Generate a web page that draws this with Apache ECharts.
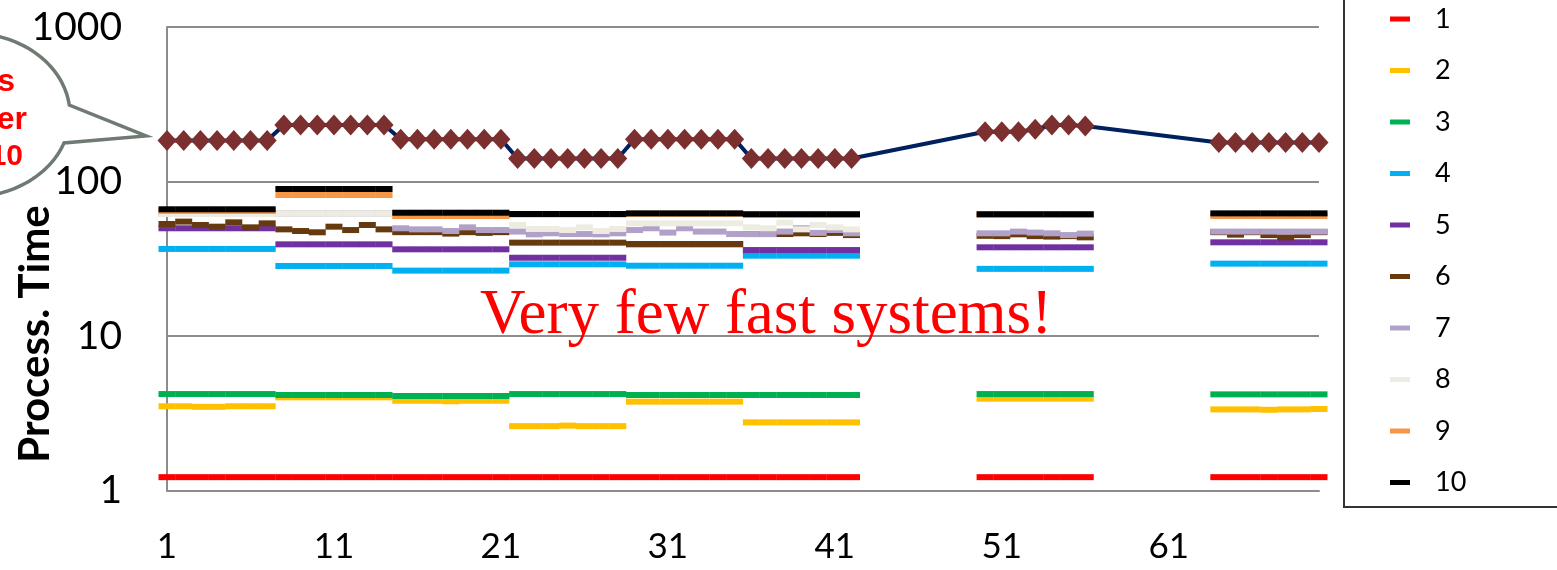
<!DOCTYPE html>
<html><head><meta charset="utf-8">
<script src="https://cdn.jsdelivr.net/npm/echarts@6/dist/echarts.min.js"></script>
<style>html,body{margin:0;padding:0;background:#fff;overflow:hidden}#c{width:1557px;height:570px}</style>
</head><body><div id="c"></div>
<script>
const N = null;
const categories = ['1','2','3','4','5','6','7','8','9','10','11','12','13','14','15','16','17','18','19','20',
'21','22','23','24','25','26','27','28','29','30','31','32','33','34','35','36','37','38','39','40',
'41','42','43','44','45','46','47','48','49','50','51','52','53','54','55','56','57','58','59','60',
'61','62','63','64','65','66','67','68','69','70'];
const yTicks = [1, 10, 100, 1000];
const seriesNames = ['1','2','3','4','5','6','7','8','9','10'];
const seriesColors = ['#FF0000','#FFC000','#00B050','#00B0F0','#7030A0','#663A0E','#B1A0C7','#EEECE1','#F79646','#000000'];

const s1 = [
1.22,1.22,1.22,1.22,1.22,1.22,1.22, 1.22,1.22,1.22,1.22,1.22,1.22,1.22,
1.22,1.22,1.22,1.22,1.22,1.22,1.22, 1.22,1.22,1.22,1.22,1.22,1.22,1.22,
1.22,1.22,1.22,1.22,1.22,1.22,1.22, 1.22,1.22,1.22,1.22,1.22,1.22,1.22,
N,N,N,N,N,N,N, 1.22,1.22,1.22,1.22,1.22,1.22,1.22, N,N,N,N,N,N,N, 1.22,1.22,1.22,1.22,1.22,1.22,1.22];
const s2 = [
3.51,3.51,3.48,3.48,3.51,3.51,3.51, 4.01,4.01,4.01,4.01,4.01,4.01,4.01,
3.81,3.81,3.81,3.78,3.81,3.81,3.81, 2.61,2.61,2.61,2.63,2.61,2.61,2.61,
3.76,3.76,3.76,3.76,3.76,3.76,3.76, 2.76,2.76,2.76,2.76,2.76,2.76,2.76,
N,N,N,N,N,N,N, 3.93,3.93,3.93,3.93,3.93,3.93,3.93, N,N,N,N,N,N,N, 3.35,3.35,3.35,3.33,3.35,3.35,3.37];
const s3 = [
4.21,4.21,4.21,4.21,4.21,4.21,4.21, 4.15,4.15,4.15,4.15,4.15,4.15,4.15,
4.09,4.09,4.09,4.09,4.09,4.09,4.09, 4.21,4.21,4.21,4.21,4.21,4.21,4.21,
4.15,4.15,4.15,4.15,4.15,4.15,4.15, 4.15,4.15,4.15,4.15,4.15,4.15,4.15,
N,N,N,N,N,N,N, 4.21,4.21,4.21,4.21,4.21,4.21,4.21, N,N,N,N,N,N,N, 4.19,4.19,4.19,4.19,4.19,4.19,4.19];
const s4 = [
36.6,36.6,36.6,36.6,36.6,36.6,36.6, 28.4,28.4,28.4,28.4,28.4,28.4,28.4,
26.5,26.5,26.5,26.5,26.5,26.5,26.5, 29.1,29.1,29.1,29.1,29.1,29.1,29.1,
28.5,28.5,28.5,28.5,28.5,28.5,28.5, 33.1,33.1,33.1,33.1,33.1,33.1,33.1,
N,N,N,N,N,N,N, 27.2,27.2,27.2,27.2,27.2,27.2,27.2, N,N,N,N,N,N,N, 29.4,29.4,29.4,29.4,29.4,29.4,29.4];
const s5 = [
49.8,49.8,49.8,49.8,49.8,49.8,49.8, 39.2,39.2,39.2,39.2,39.2,39.2,39.2,
36.4,36.4,36.4,36.4,36.4,36.4,36.4, 32.1,32.1,32.1,32.1,32.1,32.1,32.1,
39.2,39.2,39.2,39.2,39.2,39.2,39.2, 36.0,36.0,36.0,36.0,36.0,36.0,36.0,
N,N,N,N,N,N,N, 37.5,37.5,37.5,37.5,37.5,37.5,37.5, N,N,N,N,N,N,N, 40.4,40.4,40.4,40.4,40.4,40.4,40.4];
const s6 = [
53.1,55.0,52.3,51.0,54.4,50.5,53.6, 49.0,47.8,46.9,51.0,48.5,52.3,49.0,
47.0,47.0,47.0,46.0,47.0,46.5,47.0, 40.2,40.2,40.2,40.2,40.2,40.2,40.2,
39.4,39.4,39.4,39.4,39.4,39.4,39.4, 45.7,45.7,45.7,46.2,45.7,46.5,45.0,
N,N,N,N,N,N,N, 44.5,44.3,45.5,44.3,44.0,44.3,43.5, N,N,N,N,N,N,N, 47.0,45.3,47.0,45.0,43.5,45.0,47.0];
const s7 = [
61.6,61.6,61.6,61.6,61.6,61.6,61.6, 62.2,62.2,62.2,62.2,62.2,62.2,62.2,
49.8,49.0,49.0,47.8,50.5,48.5,48.5, 47.4,45.5,46.2,45.7,45.7,45.5,46.2,
48.5,49.8,46.7,49.8,47.4,47.4,45.7, 45.7,45.7,47.4,49.8,46.5,48.5,46.2,
N,N,N,N,N,N,N, 46.2,46.2,47.4,46.7,46.2,45.0,46.0, N,N,N,N,N,N,N, 47.4,47.4,47.4,47.4,47.4,47.4,47.4];
const s8 = [
61.6,61.6,61.6,61.6,61.6,61.6,61.6, 62.2,62.2,62.2,62.2,62.2,62.2,62.2,
61.3,61.3,61.3,61.3,61.3,61.3,61.3, 52.3,49.3,49.3,48.5,50.5,47.8,49.3,
53.6,53.6,53.6,53.6,53.6,53.6,53.6, 50.5,49.8,54.1,49.0,52.3,50.5,49.0,
N,N,N,N,N,N,N, 61.0,61.0,61.0,61.0,61.0,61.0,61.0, N,N,N,N,N,N,N, 61.0,61.0,61.0,61.0,61.0,61.0,61.0];
const s9 = [
64.5,64.5,64.5,64.5,64.5,64.5,64.5, 81.8,81.8,81.8,81.8,81.8,81.8,81.8,
59.8,59.8,59.8,59.8,59.8,59.8,59.8, 61.2,61.2,61.2,61.2,61.2,61.2,61.2,
61.8,61.8,61.8,61.8,61.8,61.8,61.8, 61.0,61.0,61.0,61.0,61.0,61.0,61.0,
N,N,N,N,N,N,N, 61.0,61.0,61.0,61.0,61.0,61.0,61.0, N,N,N,N,N,N,N, 59.8,59.8,59.8,59.8,59.8,59.8,59.8];
const s10 = [
66.1,66.1,66.1,66.1,66.1,66.1,66.1, 89.4,89.4,89.4,89.4,89.4,89.4,89.4,
62.8,62.8,62.8,62.8,62.8,62.8,62.8, 61.6,61.6,61.6,61.6,61.6,61.6,61.6,
62.2,62.2,62.2,62.2,62.2,62.2,62.2, 61.4,61.4,61.4,61.4,61.4,61.4,61.4,
N,N,N,N,N,N,N, 61.4,61.4,61.4,61.4,61.4,61.4,61.4, N,N,N,N,N,N,N, 62.2,62.2,62.2,62.2,62.2,62.2,62.2];
const totalSeries = [
184,184,184,184,184,184,184, 232,232,232,232,232,232,232,
188,188,188,188,188,188,188, 141,141,141,141,141,141,141,
188,188,188,188,188,188,188, 141,141,141,141,141,141,141,
N,N,N,N,N,N,N, 210,210,210,218,232,232,229, N,N,N,N,N,N,N, 179,179,179,179,179,179,179];

const seriesValues = [s1,s2,s3,s4,s5,s6,s7,s8,s9,s10];

// speech-bubble outline (decoration): part of an ellipse with a pointer
function bubblePoints() {
  const cx = -30, cy = 115, rx = 100, ry = 82;
  const pts = [];
  const a0 = -Math.PI / 2, a1 = Math.asin((105 - cy) / ry);
  for (let k = 0; k <= 40; k++) {
    const a = a0 + (a1 - a0) * k / 40;
    pts.push([cx + rx * Math.cos(a), cy + ry * Math.sin(a)]);
  }
  pts.push([146, 136]);
  const b0 = Math.asin((143 - cy) / ry), b1 = Math.PI / 2;
  for (let k = 0; k <= 40; k++) {
    const a = b0 + (b1 - b0) * k / 40;
    pts.push([cx + rx * Math.cos(a), cy + ry * Math.sin(a)]);
  }
  return pts;
}

const chart = echarts.init(document.getElementById('c'), null, {renderer:'canvas'});
const series = seriesValues.map((vals, i) => ({
  name: seriesNames[i],
  type: 'scatter',
  data: vals,
  symbol: 'rect',
  symbolSize: [17, 6],
  itemStyle: { color: seriesColors[i], opacity: 1 },
  emphasis: { disabled: true },
  z: 2
}));
series.push({
  name: 'total',
  type: 'line',
  data: totalSeries,
  connectNulls: true,
  showAllSymbol: true,
  symbol: 'diamond',
  symbolSize: [19, 21],
  lineStyle: { color: '#002060', width: 4 },
  itemStyle: { color: '#7B2F2F' },
  emphasis: { disabled: true },
  z: 5
});

chart.setOption({
  animation: false,
  backgroundColor: '#fff',
  grid: { left: 167, right: 238, top: 27, bottom: 79.5, containLabel: false },
  xAxis: {
    type: 'category',
    data: categories,
    boundaryGap: false,
    axisLine: { onZero: false, lineStyle: { color: '#8c8c8c', width: 2 } },
    axisTick: { show: false },
    axisLabel: { interval: 9, fontSize: 35, fontFamily: 'Lato', color: '#000', margin: 39 },
    splitLine: { show: false }
  },
  yAxis: {
    type: 'log',
    logBase: 10,
    min: yTicks[0],
    max: yTicks[yTicks.length - 1],
    axisLine: { show: true, lineStyle: { color: '#8c8c8c', width: 2 } },
    axisTick: { show: false },
    axisLabel: { fontSize: 39, fontFamily: 'Lato', color: '#000', margin: 45,
      formatter: v => String(Math.round(v)) },
    splitLine: { show: true, lineStyle: { color: '#8c8c8c', width: 2 } }
  },
  legend: {
    data: seriesNames,
    orient: 'vertical',
    left: 1390,
    top: 4,
    padding: 0,
    itemGap: 21.5,
    itemWidth: 20,
    itemHeight: 5,
    icon: 'rect',
    selectedMode: false,
    textStyle: { fontSize: 27, fontFamily: 'Lato', color: '#000', lineHeight: 30, padding: [0, 0, 0, 20] }
  },
  graphic: [
    { type: 'rect', shape: { x: 1344, y: -10, width: 300, height: 517 },
      style: { fill: 'none', stroke: '#333', lineWidth: 2 }, z: 0 },
    { type: 'text', x: 35, y: 334, rotation: Math.PI / 2,
      style: { text: 'Process. Time', font: 'bold 42px Lato', fill: '#000', textAlign: 'center', textVerticalAlign: 'middle' }, z: 10 },
    { type: 'text', x: 480, y: 316,
      style: { text: 'Very few fast systems!', font: '63px "Liberation Serif"', fill: '#FF0000', textAlign: 'left', textVerticalAlign: 'middle' }, z: 10 },
    { type: 'polygon', shape: { points: bubblePoints() },
      style: { fill: '#ffffff', stroke: '#6F7A72', lineWidth: 3.5, lineJoin: 'miter' }, z: 10 },
    { type: 'text', x: 15, y: 82,
      style: { text: 's', font: 'bold 32px "Liberation Sans"', fill: '#FF0000', textAlign: 'right', textVerticalAlign: 'middle' }, z: 11 },
    { type: 'text', x: 27, y: 120,
      style: { text: 'er', font: 'bold 32px "Liberation Sans"', fill: '#FF0000', textAlign: 'right', textVerticalAlign: 'middle' }, z: 11 },
    { type: 'text', x: 23, y: 157,
      style: { text: '10', font: 'bold 30px "Liberation Sans"', fill: '#FF0000', textAlign: 'right', textVerticalAlign: 'middle' }, z: 11 }
  ],
  series: series
});
</script></body></html>
